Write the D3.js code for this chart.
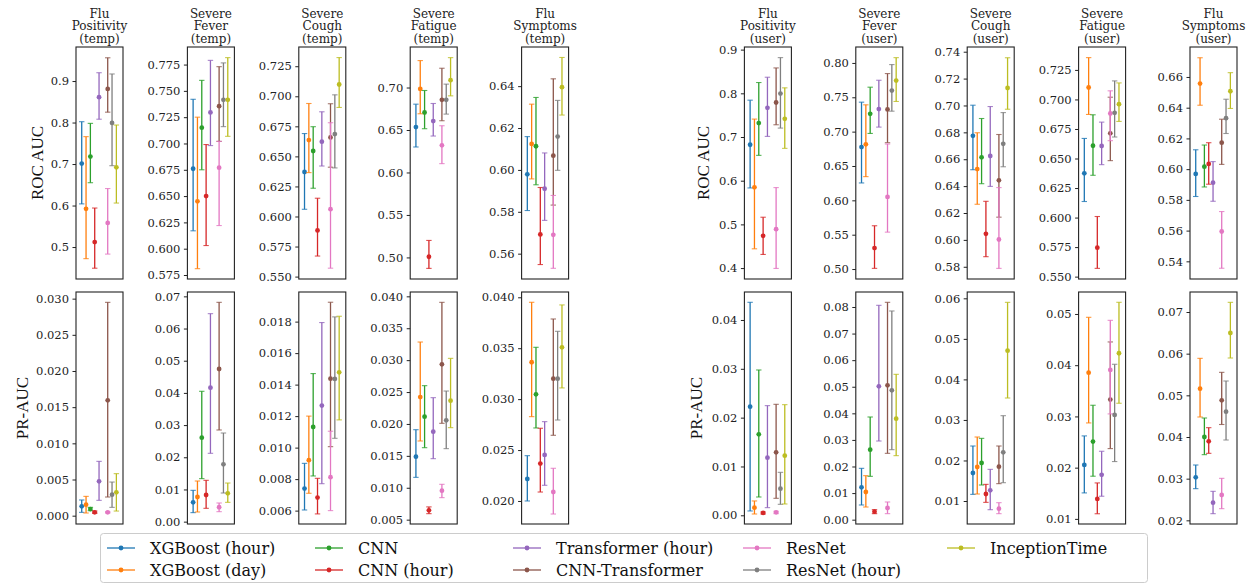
<!DOCTYPE html>
<html>
<head>
<meta charset="utf-8">
<script src="https://cdn.jsdelivr.net/npm/d3@7"></script>
<style>
  body { margin: 0; background: #fff; }
  svg { display: block; }
  .tick text { font-family: "DejaVu Serif", serif; font-size: 11.5px; fill: #222; }
  .tick line { stroke: #222; }
</style>
</head>
<body>
<svg id="chart" width="1257" height="585"></svg>
<script>
/* Data */

const models = ['XGBoost (hour)', 'XGBoost (day)', 'CNN', 'CNN (hour)', 'Transformer (hour)',
    'CNN-Transformer', 'ResNet', 'ResNet (hour)', 'InceptionTime'];

const titles = ['Flu\nPositivity\n(temp)', 'Severe\nFever\n(temp)', 'Severe\nCough\n(temp)', 'Severe\nFatigue\n(temp)', 'Flu\nSymptoms\n(temp)',
    'Flu\nPositivity\n(user)', 'Severe\nFever\n(user)', 'Severe\nCough\n(user)', 'Severe\nFatigue\n(user)', 'Flu\nSymptoms\n(user)'];

// one row per model: [mean, low, high]
const rocFluPosTemp = [[0.701, 0.604, 0.802], [0.592, 0.472, 0.766], [0.718, 0.655, 0.798], [0.512, 0.449, 0.594],
    [0.861, 0.808, 0.920], [0.881, 0.825, 0.956], [0.558, 0.483, 0.641], [0.799, 0.696, 0.917], [0.692, 0.606, 0.794]];
const rocFeverTemp = [[0.676, 0.617, 0.742], [0.645, 0.581, 0.725], [0.715, 0.675, 0.760], [0.650, 0.603, 0.699],
    [0.7295, 0.698, 0.779], [0.7355, 0.702, 0.773], [0.677, 0.622, 0.702], [0.7415, 0.716, 0.7766], [0.7415, 0.7068, 0.7816]];
const rocCoughTemp = [[0.637, 0.606, 0.669], [0.6636, 0.6365, 0.694], [0.6545, 0.6235, 0.6747], [0.5884, 0.5671, 0.6152],
    [0.6622, 0.642, 0.6871], [0.6658, 0.641, 0.6938], [0.6061, 0.557, 0.678], [0.6686, 0.6404, 0.7012], [0.7098, 0.6907, 0.7322]];
const rocFatigueTemp = [[0.6534, 0.630, 0.6804], [0.6984, 0.6691, 0.7317], [0.6706, 0.6515, 0.6965], [0.5008, 0.4871, 0.520],
    [0.6605, 0.6429, 0.6812], [0.6855, 0.6609, 0.7227], [0.6319, 0.6104, 0.655], [0.6855, 0.6687, 0.704], [0.7086, 0.6902, 0.7352]];
const rocSymptomsTemp = [[0.5979, 0.5806, 0.6159], [0.6124, 0.5957, 0.6314], [0.6113, 0.5929, 0.6346], [0.5692, 0.5548, 0.5916],
    [0.591, 0.5759, 0.6081], [0.6068, 0.5832, 0.6435], [0.569, 0.553, 0.5878], [0.6159, 0.5998, 0.6332], [0.6395, 0.6262, 0.6537]];
const rocFluPosUser = [[0.6823, 0.5834, 0.7843], [0.5849, 0.4441, 0.741], [0.7318, 0.658, 0.8247], [0.4738, 0.4312, 0.5164],
    [0.7668, 0.7014, 0.8368], [0.779, 0.728, 0.8581], [0.489, 0.3992, 0.5842], [0.7995, 0.7204, 0.8817], [0.7417, 0.674, 0.8125]];
const rocFeverUser = [[0.6776, 0.6253, 0.7429], [0.6815, 0.6345, 0.739], [0.726, 0.6974, 0.7647], [0.5305, 0.501, 0.563],
    [0.7328, 0.7066, 0.7748], [0.7323, 0.6839, 0.7845], [0.605, 0.5537, 0.682], [0.7598, 0.7298, 0.7976], [0.7744, 0.7439, 0.8077]];
const rocCoughUser = [[0.6774, 0.6522, 0.7002], [0.6527, 0.6265, 0.6797], [0.6614, 0.6418, 0.6903], [0.6045, 0.5875, 0.6287],
    [0.6624, 0.6398, 0.6992], [0.6443, 0.6169, 0.6784], [0.6003, 0.5788, 0.6389], [0.6715, 0.6544, 0.6947], [0.713, 0.6972, 0.7355]];
const rocFatigueUser = [[0.6375, 0.6136, 0.667], [0.7101, 0.6873, 0.7354], [0.6608, 0.6358, 0.687], [0.5745, 0.557, 0.6009],
    [0.6606, 0.6448, 0.6808], [0.6713, 0.6482, 0.7019], [0.6881, 0.6651, 0.7073], [0.6887, 0.6682, 0.7157], [0.696, 0.6814, 0.714]];
const rocSymptomsUser = [[0.5969, 0.5822, 0.6126], [0.6557, 0.6416, 0.6725], [0.6016, 0.5884, 0.6157], [0.6034, 0.5902, 0.6172],
    [0.5912, 0.5791, 0.6049], [0.6172, 0.6031, 0.6325], [0.5594, 0.5355, 0.5724], [0.6332, 0.6232, 0.6455], [0.6507, 0.6395, 0.6628]];

const prFluPosTemp = [[0.00129, 0.00046, 0.00217], [0.00152, 0.00037, 0.00267], [0.00092, 0.00069, 0.00115], [0.00046, 0.00032, 0.00064],
    [0.00475, 0.00212, 0.00751], [0.01594, 0.00258, 0.02949], [0.00046, 0.00037, 0.00055], [0.0029, 0.00115, 0.00465], [0.00323, 0.00064, 0.00581]];
const prFeverTemp = [[0.0060, 0.0028, 0.00973], [0.00766, 0.0030, 0.01263], [0.0261, 0.01336, 0.0405], [0.00828, 0.00414, 0.01284],
    [0.04163, 0.02123, 0.06462], [0.04743, 0.02848, 0.06814], [0.0045, 0.0031, 0.0058], [0.01781, 0.0089, 0.02754], [0.0088, 0.0060, 0.0120]];
const prCoughTemp = [[0.0074, 0.00604, 0.0090], [0.0092, 0.0071, 0.0120], [0.01131, 0.0082, 0.0147], [0.00683, 0.00579, 0.00805],
    [0.01267, 0.00771, 0.01794], [0.01438, 0.01006, 0.01923], [0.00812, 0.0060, 0.01104], [0.01436, 0.01059, 0.0183], [0.01478, 0.01176, 0.01834]];
const prFatigueTemp = [[0.01487, 0.01163, 0.0191], [0.02422, 0.01733, 0.03284], [0.02114, 0.01628, 0.026], [0.00646, 0.00594, 0.0070],
    [0.01879, 0.01456, 0.02412], [0.02934, 0.0201, 0.03906], [0.00955, 0.00845, 0.01054], [0.02057, 0.01613, 0.02516], [0.02365, 0.01942, 0.03028]];
const prSymptomsTemp = [[0.02216, 0.0200, 0.02445], [0.03362, 0.02828, 0.03951], [0.03047, 0.02717, 0.03509], [0.02367, 0.02088, 0.02714],
    [0.02452, 0.02154, 0.02779], [0.03201, 0.02645, 0.03787], [0.02088, 0.01872, 0.02321], [0.03201, 0.02795, 0.03666], [0.03509, 0.0311, 0.03925]];
const prFluPosUser = [[0.02225, 0.00089, 0.04362], [0.00157, 0.00027, 0.00294], [0.01659, 0.00375, 0.02976], [0.00048, 0.00027, 0.00068],
    [0.01181, 0.00157, 0.02246], [0.0129, 0.00348, 0.02273], [0.00061, 0.00034, 0.00082], [0.00546, 0.00225, 0.0088], [0.01222, 0.00232, 0.02266]];
const prFeverUser = [[0.01216, 0.00552, 0.01931], [0.01041, 0.00476, 0.01655], [0.02633, 0.0163, 0.03862], [0.00301, 0.00226, 0.00376],
    [0.05016, 0.02959, 0.08063], [0.05053, 0.02495, 0.08176], [0.00439, 0.00226, 0.00665], [0.04865, 0.02633, 0.0785], [0.038, 0.02408, 0.05467]];
const prCoughUser = [[0.01691, 0.01164, 0.02357], [0.01839, 0.01173, 0.02579], [0.01938, 0.01395, 0.02546], [0.01173, 0.00967, 0.01411],
    [0.01263, 0.00786, 0.01781], [0.01847, 0.01428, 0.02357], [0.00811, 0.00688, 0.00959], [0.02201, 0.01452, 0.03105], [0.04709, 0.03541, 0.05901]];
const prFatigueUser = [[0.02054, 0.01507, 0.0262], [0.03855, 0.02873, 0.04935], [0.02509, 0.01833, 0.03218], [0.0139, 0.0110, 0.01702],
    [0.01859, 0.01442, 0.0232], [0.03328, 0.02372, 0.04454], [0.03907, 0.03049, 0.04876], [0.03029, 0.02119, 0.04018], [0.04233, 0.03257, 0.05228]];
const prSymptomsUser = [[0.03032, 0.0276, 0.03328], [0.0516, 0.0448, 0.05888], [0.04, 0.03576, 0.04456], [0.03896, 0.03608, 0.04224],
    [0.02424, 0.0216, 0.02696], [0.0488, 0.0430, 0.05552], [0.02608, 0.0228, 0.03008], [0.04608, 0.03928, 0.05344], [0.06496, 0.05896, 0.07232]];

// axis limits and tick labels per panel
const rocLimits = [[0.423, 0.982], [0.5712, 0.7917], [0.548, 0.741], [0.4746, 0.7477], [0.5479, 0.6587],
    [0.375, 0.906], [0.4855, 0.8232], [0.5709, 0.7435], [0.548, 0.7444], [0.5285, 0.6795]];
const rocTicks = [['0.5', '0.6', '0.7', '0.8', '0.9'],
    ['0.575', '0.600', '0.625', '0.650', '0.675', '0.700', '0.725', '0.750', '0.775'],
    ['0.550', '0.575', '0.600', '0.625', '0.650', '0.675', '0.700', '0.725'],
    ['0.50', '0.55', '0.60', '0.65', '0.70'],
    ['0.56', '0.58', '0.60', '0.62', '0.64'],
    ['0.4', '0.5', '0.6', '0.7', '0.8', '0.9'],
    ['0.50', '0.55', '0.60', '0.65', '0.70', '0.75', '0.80'],
    ['0.58', '0.60', '0.62', '0.64', '0.66', '0.68', '0.70', '0.72', '0.74'],
    ['0.550', '0.575', '0.600', '0.625', '0.650', '0.675', '0.700', '0.725'],
    ['0.54', '0.56', '0.58', '0.60', '0.62', '0.64', '0.66']];
const prLimits = [[-0.00115, 0.03092], [-0.00073, 0.07135], [0.00515, 0.01988], [0.00432, 0.04068], [0.01774, 0.04052],
    [-0.00178, 0.04573], [-0.00163, 0.08564], [0.00433, 0.06156], [0.009, 0.05429], [0.01912, 0.0748]];
const prTicks = [['0.000', '0.005', '0.010', '0.015', '0.020', '0.025', '0.030'],
    ['0.00', '0.01', '0.02', '0.03', '0.04', '0.05', '0.06', '0.07'],
    ['0.006', '0.008', '0.010', '0.012', '0.014', '0.016', '0.018'],
    ['0.005', '0.010', '0.015', '0.020', '0.025', '0.030', '0.035', '0.040'],
    ['0.020', '0.025', '0.030', '0.035', '0.040'],
    ['0.00', '0.01', '0.02', '0.03', '0.04'],
    ['0.00', '0.01', '0.02', '0.03', '0.04', '0.05', '0.06', '0.07', '0.08'],
    ['0.01', '0.02', '0.03', '0.04', '0.05', '0.06'],
    ['0.01', '0.02', '0.03', '0.04', '0.05'],
    ['0.02', '0.03', '0.04', '0.05', '0.06', '0.07']];

const rocData = [rocFluPosTemp, rocFeverTemp, rocCoughTemp, rocFatigueTemp, rocSymptomsTemp,
    rocFluPosUser, rocFeverUser, rocCoughUser, rocFatigueUser, rocSymptomsUser];
const prData = [prFluPosTemp, prFeverTemp, prCoughTemp, prFatigueTemp, prSymptomsTemp,
    prFluPosUser, prFeverUser, prCoughUser, prFatigueUser, prSymptomsUser];

/* Layout */

const colors = d3.schemeCategory10;
const slot = [0, 1, 2, 3, 4, 6, 6, 7, 8]; // ResNet shares its slot with CNN-Transformer
const panelW = 47, panelH = 232;
const rowTop = [47, 292];
const colLeft = i => 76 + (i < 5 ? i : i + 1) * 111.4;

const svg = d3.select('#chart');

const x = d3.scaleLinear().domain([-1.32, 9.53]).range([0, panelW]);

const drawPanel = (g, rows, limits, ticks) => {
    const y = d3.scaleLinear().domain(limits).range([panelH, 0]);

    g.append('g')
        .call(d3.axisLeft(y)
            .tickValues(ticks.map(Number))
            .tickFormat((d, i) => ticks[i])
            .tickSize(3.5)
            .tickPadding(3.5))
        .call(a => a.select('.domain').remove());

    const marks = g.append('g').selectAll('g')
        .data(rows)
        .join('g')
        .attr('stroke', (d, i) => colors[i])
        .attr('fill', (d, i) => colors[i]);

    marks.append('line')
        .attr('x1', (d, i) => x(slot[i])).attr('x2', (d, i) => x(slot[i]))
        .attr('y1', d => y(d[1])).attr('y2', d => y(d[2]))
        .attr('stroke-width', 1.3);

    [1, 2].forEach(k => {
        marks.append('line')
            .attr('x1', (d, i) => x(slot[i]) - 2.7).attr('x2', (d, i) => x(slot[i]) + 2.7)
            .attr('y1', d => y(d[k])).attr('y2', d => y(d[k]))
            .attr('stroke-width', 1.1)
            .attr('stroke-opacity', 0.8);
    });

    marks.append('circle')
        .attr('cx', (d, i) => x(slot[i]))
        .attr('cy', d => y(d[0]))
        .attr('r', 2.4)
        .attr('stroke', 'none');

    g.append('rect')
        .attr('width', panelW).attr('height', panelH)
        .attr('fill', 'none')
        .attr('stroke', '#222')
        .attr('stroke-width', 1.1);
};

titles.forEach((t, i) => {
    const left = colLeft(i);

    svg.append('text')
        .attr('x', left + panelW / 2)
        .attr('font-family', 'DejaVu Serif')
        .attr('font-size', 12)
        .attr('fill', '#222')
        .attr('text-anchor', 'middle')
        .selectAll('tspan')
        .data(t.split('\n'))
        .join('tspan')
        .attr('x', left + panelW / 2)
        .attr('y', (d, k) => 17.5 + k * 12.7)
        .text(d => d);

    drawPanel(svg.append('g').attr('transform', `translate(${left},${rowTop[0]})`), rocData[i], rocLimits[i], rocTicks[i]);
    drawPanel(svg.append('g').attr('transform', `translate(${left},${rowTop[1]})`), prData[i], prLimits[i], prTicks[i]);
});

/* Axis labels */

const yLabel = (text, cx, cy) => {
    svg.append('text')
        .attr('transform', `translate(${cx},${cy}) rotate(-90)`)
        .attr('text-anchor', 'middle')
        .attr('dy', '0.35em')
        .attr('font-family', 'Liberation Serif')
        .attr('font-size', 17)
        .attr('fill', '#111')
        .text(text);
};

yLabel('ROC AUC', 37, rowTop[0] + panelH / 2);
yLabel('ROC AUC', 703, rowTop[0] + panelH / 2);
yLabel('PR-AUC', 22, rowTop[1] + panelH / 2);
yLabel('PR-AUC', 696, rowTop[1] + panelH / 2);

/* Legend */

const legend = svg.append('g');

legend.append('rect')
    .attr('x', 100.5).attr('y', 533.5)
    .attr('width', 1047).attr('height', 49)
    .attr('rx', 3)
    .attr('fill', '#fff')
    .attr('stroke', '#ccc');

const legendX = [150, 358, 556, 786, 990];
const legendY = [548, 570];

const items = legend.selectAll('g.item')
    .data(models)
    .join('g')
    .attr('class', 'item')
    .attr('transform', (d, i) => `translate(${legendX[Math.floor(i / 2)]},${legendY[i % 2]})`);

items.append('line')
    .attr('x1', -43).attr('x2', -15)
    .attr('stroke', (d, i) => colors[i])
    .attr('stroke-width', 1.3);

items.append('circle')
    .attr('cx', -29)
    .attr('r', 2.4)
    .attr('fill', (d, i) => colors[i]);

items.append('text')
    .attr('dy', '0.35em')
    .attr('font-family', 'DejaVu Serif')
    .attr('font-size', 16)
    .attr('fill', '#111')
    .text(d => d);
</script>
</body>
</html>
